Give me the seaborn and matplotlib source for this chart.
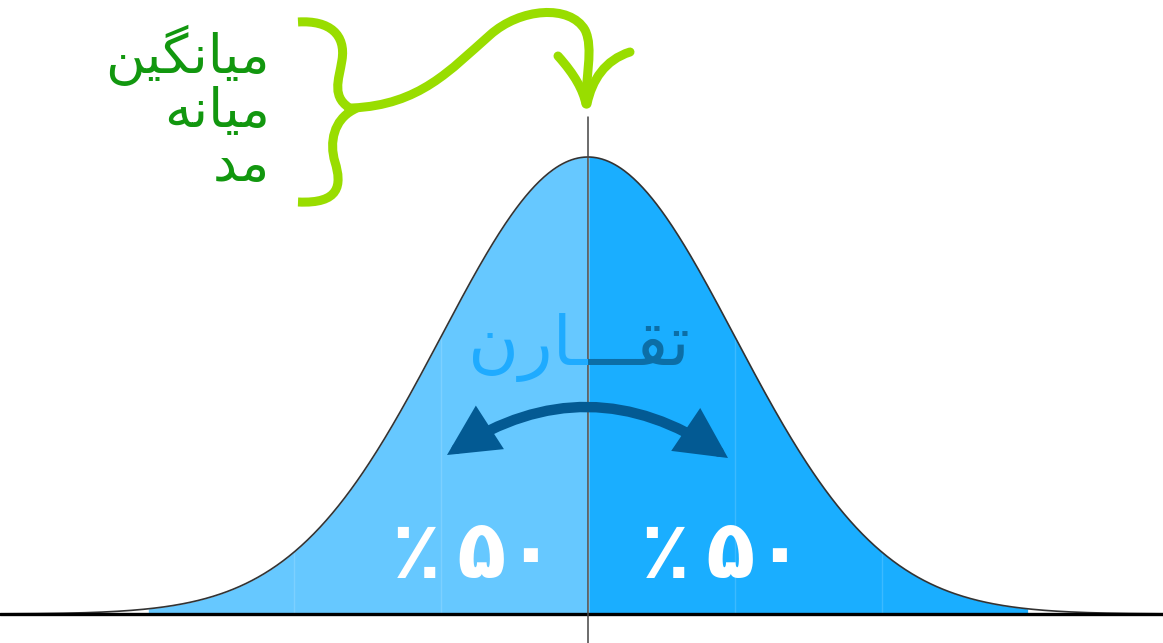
import numpy as np
import pandas as pd
import matplotlib
matplotlib.use("Agg")
import matplotlib.pyplot as plt
import seaborn as sns
from matplotlib.path import Path
from matplotlib.patches import PathPatch, FancyArrowPatch

# normal curve parameters and the two halves
mean = 0.0
sd = 1.0
halves = ["left", "right"]
shares = [50, 50]
half_colors = ["#66c8ff", "#1aaeff"]
band_edges = [-3, -2, -1, 1, 2, 3]   # in sd units

# labels (persian, pre-shaped in visual order because matplotlib has no bidi)
center_labels = ["\ufee6\ufef4\ufb95\ufee7\ufe8e\ufef4\ufee3",   # میانگین
                 "\ufeea\ufee7\ufe8e\ufef4\ufee3",               # میانه
                 "\ufeaa\ufee3"]                                 # مد
symmetry_label = "\ufee5\ufead\ufe8e\u0640\u0640\u0640\ufed8\ufe97"  # تقارن

def fa_digits(n):
    return str(n).translate(str.maketrans("0123456789", "۰۱۲۳۴۵۶۷۸۹"))

sns.set_theme(style="white")
plt.rcParams['font.family'] = ['DejaVu Sans']

fig = plt.figure(figsize=(11.63, 6.43), dpi=100)
ax = fig.add_axes([0, 0, 1, 1])
ax.set_xlim(-4.0, 3.912)
ax.set_ylim(-0.0253, 0.536)
ax.axis("off")

x = np.linspace(-4.2, 4.2, 800)
pdf = np.exp(-0.5 * ((x - mean) / sd) ** 2) / (sd * np.sqrt(2 * np.pi))
curve = pd.DataFrame({"x": x, "density": pdf})

# filled halves
for i, name in enumerate(halves):
    lo, hi = (mean - 3 * sd, mean) if name == "left" else (mean, mean + 3 * sd)
    m = (curve["x"] >= lo) & (curve["x"] <= hi)
    ax.fill_between(curve["x"][m], 0, curve["density"][m], color=half_colors[i], lw=0, zorder=1)

# faint band lines
for b in band_edges[1:-1]:
    xb = mean + b * sd
    yb = np.exp(-0.5 * b ** 2) / (sd * np.sqrt(2 * np.pi))
    ax.plot([xb, xb], [0, yb], color="white", alpha=0.15, lw=1, zorder=2)

sns.lineplot(data=curve, x="x", y="density", ax=ax, color="#333333", lw=1.2, zorder=3)
ax.axhline(0, color="black", lw=2.4, zorder=4)
ax.plot([mean, mean], [-0.03, 0.4338], color="#444444", lw=1.1, zorder=4)

# percent labels
for i, name in enumerate(halves):
    xt = mean - 0.78 * sd if name == "left" else mean + 0.92 * sd
    ax.text(xt, 0.051, "٪\u2009" + fa_digits(shares[i]), color="white", fontsize=58,
            fontweight="bold", ha="center", va="center", zorder=5)

# overlay in pixel coords for the annotations
ov = fig.add_axes([0, 0, 1, 1])
ov.set_xlim(0, 1163)
ov.set_ylim(643, 0)
ov.axis("off")
ov.patch.set_alpha(0)

# symmetry word, two tones split at the mean line
for color, clip in [("#1fabff", (0, 588)), ("#0c6ea6", (588, 1163))]:
    t = ov.text(579, 348, symmetry_label, color=color, fontsize=50,
                ha="center", va="center", zorder=6, clip_on=True)
    rect = plt.Rectangle((clip[0], 0), clip[1] - clip[0], 643, transform=ov.transData)
    t.set_clip_path(rect)

# curved double arrow
arr = FancyArrowPatch((447, 455), (728, 458), connectionstyle="arc3,rad=-0.33",
                      arrowstyle="<|-|>,head_length=0.65,head_width=0.33",
                      mutation_scale=38, lw=7.5, color="#035a93", zorder=6,
                      shrinkA=0, shrinkB=0, joinstyle="miter")
ov.add_patch(arr)

# green labels
for i, (lab, yl) in enumerate(zip(center_labels, [55, 112, 166])):
    ov.text(270, yl, lab, color="#12970f", fontsize=39,
            ha="right", va="center")

lime = "#99dd00"
C = Path.CURVE4
brace = Path([(298, 22), (330, 20), (346, 35), (342, 60),
              (339, 80), (330, 98), (353, 110),
              (334, 120), (329, 142), (335, 162),
              (342, 185), (340, 204), (298, 202)],
             [Path.MOVETO, C, C, C, C, C, C, C, C, C, C, C, C])
ov.add_patch(PathPatch(brace, fill=False, ec=lime, lw=6.5, capstyle="butt"))

swoosh = Path([(352, 108), (420, 105), (450, 70), (490, 35),
               (520, 8), (570, 4), (585, 30),
               (594, 48), (585, 80), (586, 103)],
              [Path.MOVETO, C, C, C, C, C, C, C, C, C])
ov.add_patch(PathPatch(swoosh, fill=False, ec=lime, lw=6.5, capstyle="round"))
for barb in [[(558, 56), (575, 75), (583, 90), (586, 104)],
             [(630, 52), (605, 60), (592, 80), (587, 104)]]:
    ov.add_patch(PathPatch(Path(barb, [Path.MOVETO, C, C, C]), fill=False,
                           ec=lime, lw=6.5, capstyle="round"))

fig.savefig("out.png", dpi=100)
